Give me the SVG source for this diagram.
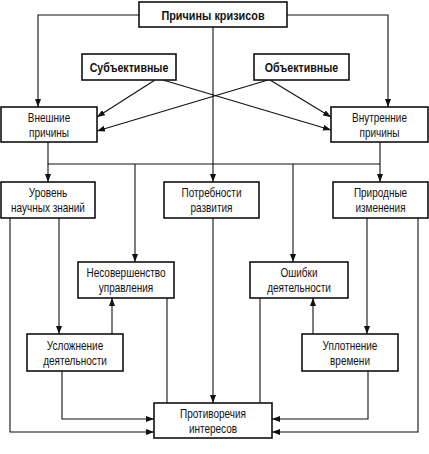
<svg xmlns="http://www.w3.org/2000/svg" width="429" height="454" viewBox="0 0 429 454">
<defs>
<marker id="ah" viewBox="0 0 8 6" refX="8" refY="3" markerWidth="8" markerHeight="6" markerUnits="userSpaceOnUse" orient="auto">
<path d="M0,0 L8,3 L0,6 Z" fill="#111"/>
</marker>
</defs>
<style>
.box{fill:#fff;stroke:#111;stroke-width:1.6}
.t{font-family:"Liberation Sans",Arial,sans-serif;font-size:12.5px;fill:#111;text-anchor:middle}
.b{font-weight:bold}
.c{fill:none;stroke:#111;stroke-width:1.1}
.a{marker-end:url(#ah)}
</style>
<rect width="429" height="454" fill="#fff"/>
<g id="connectors">
<path class="c a" d="M139,15 H38 V107"/>
<path class="c a" d="M287,15 H388 V107"/>
<path class="c a" d="M213,27 V182"/>
<path class="c a" d="M155,80 L97,117"/>
<path class="c a" d="M163,80 L331,130"/>
<path class="c a" d="M268,80 L97,131"/>
<path class="c a" d="M270,80 L331,117"/>
<path class="c" d="M48,142 V164 H380 V142"/>
<path class="c a" d="M48,164 V182"/>
<path class="c a" d="M135,164 V262"/>
<path class="c a" d="M293,164 V262"/>
<path class="c a" d="M380,164 V182"/>
<path class="c a" d="M10,218 V432 H154"/>
<path class="c a" d="M59,218 V334"/>
<path class="c a" d="M213,218 V403"/>
<path class="c a" d="M367,218 V334"/>
<path class="c a" d="M418,218 V432 H272"/>
<path class="c a" d="M112,334 V298"/>
<path class="c a" d="M62,371 V419 H154"/>
<path class="c a" d="M313,334 V298"/>
<path class="c a" d="M368,371 V419 H272"/>
<path class="c" d="M167,298 V403"/>
<path class="c" d="M260,298 V403"/>
</g>
<g id="n-top"><rect class="box" x="139" y="2" width="148" height="25"/><text class="t b" transform="translate(213,19.5) scale(0.87,1)">Причины кризисов</text></g>
<g id="n-subj"><rect class="box" x="82" y="54" width="94" height="26"/><text class="t b" transform="translate(129,71.5) scale(0.85,1)">Субъективные</text></g>
<g id="n-obj"><rect class="box" x="254" y="54" width="95" height="26"/><text class="t b" transform="translate(301.5,71.5) scale(0.85,1)">Объективные</text></g>
<g id="n-ext"><rect class="box" x="1" y="107" width="96" height="35"/><text class="t" transform="translate(49,121.5) scale(0.8,1)">Внешние</text><text class="t" transform="translate(49,137) scale(0.8,1)">причины</text></g>
<g id="n-int"><rect class="box" x="331" y="107" width="97" height="35"/><text class="t" transform="translate(379.5,121.5) scale(0.8,1)">Внутренние</text><text class="t" transform="translate(379.5,137) scale(0.8,1)">причины</text></g>
<g id="n-level"><rect class="box" x="1" y="182" width="94" height="36"/><text class="t" transform="translate(48,196.5) scale(0.8,1)">Уровень</text><text class="t" transform="translate(48,212) scale(0.8,1)">научных знаний</text></g>
<g id="n-need"><rect class="box" x="164" y="182" width="95" height="36"/><text class="t" transform="translate(211.5,196.5) scale(0.8,1)">Потребности</text><text class="t" transform="translate(211.5,212) scale(0.8,1)">развития</text></g>
<g id="n-nature"><rect class="box" x="333" y="182" width="95" height="36"/><text class="t" transform="translate(380.5,196.5) scale(0.8,1)">Природные</text><text class="t" transform="translate(380.5,212) scale(0.8,1)">изменения</text></g>
<g id="n-imperf"><rect class="box" x="78" y="262" width="96" height="36"/><text class="t" transform="translate(126,276.5) scale(0.8,1)">Несовершенство</text><text class="t" transform="translate(126,292) scale(0.8,1)">управления</text></g>
<g id="n-errors"><rect class="box" x="250" y="262" width="98" height="36"/><text class="t" transform="translate(299,276.5) scale(0.8,1)">Ошибки</text><text class="t" transform="translate(299,292) scale(0.8,1)">деятельности</text></g>
<g id="n-compl"><rect class="box" x="27" y="334" width="96" height="37"/><text class="t" transform="translate(75,349.5) scale(0.8,1)">Усложнение</text><text class="t" transform="translate(75,365) scale(0.8,1)">деятельности</text></g>
<g id="n-dens"><rect class="box" x="302" y="334" width="96" height="37"/><text class="t" transform="translate(350,349.5) scale(0.8,1)">Уплотнение</text><text class="t" transform="translate(350,365) scale(0.8,1)">времени</text></g>
<g id="n-contr"><rect class="box" x="154" y="403" width="118" height="35"/><text class="t" transform="translate(213,417.5) scale(0.8,1)">Противоречия</text><text class="t" transform="translate(213,433) scale(0.8,1)">интересов</text></g>
</svg>
